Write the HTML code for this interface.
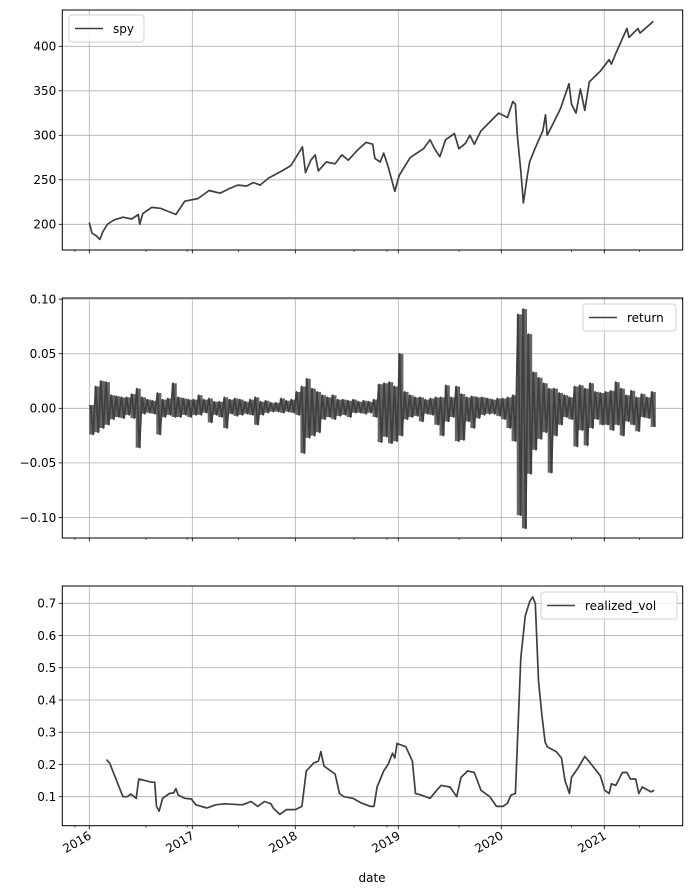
<!DOCTYPE html>
<html><head><meta charset="utf-8">
<style>
html,body{margin:0;padding:0;background:#fff;}
svg{display:block;font-family:"DejaVu Sans","Liberation Sans",sans-serif;}
</style></head>
<body>
<svg id="fig" width="692" height="895" viewBox="0 0 692 895" xmlns="http://www.w3.org/2000/svg"></svg>
<script>
// ---- data ----
const spyDates=[2016.00,2016.026,2016.069,2016.103,2016.133,2016.176,2016.240,2016.326,2016.412,2016.476,2016.489,2016.519,2016.605,2016.691,2016.755,2016.841,2016.927,2017.056,2017.163,2017.270,2017.356,2017.442,2017.528,2017.592,2017.657,2017.742,2017.871,2017.957,2018.069,2018.099,2018.150,2018.193,2018.223,2018.300,2018.386,2018.451,2018.515,2018.601,2018.687,2018.751,2018.773,2018.824,2018.858,2018.901,2018.966,2019.009,2019.116,2019.245,2019.309,2019.352,2019.403,2019.459,2019.545,2019.588,2019.652,2019.695,2019.738,2019.803,2019.888,2019.974,2020.060,2020.112,2020.137,2020.155,2020.189,2020.215,2020.253,2020.275,2020.326,2020.403,2020.429,2020.446,2020.489,2020.575,2020.657,2020.682,2020.725,2020.768,2020.811,2020.854,2020.961,2021.047,2021.069,2021.112,2021.219,2021.240,2021.326,2021.348,2021.476];
const spyValues=[202,190,187,183,192,200,205,208,206,211,200,212,219,218,215,211,226,229,238,235,240,244,243,247,244,252,260,266,287,258,272,278,260,270,268,278,272,283,292,290,274,270,280,265,237,255,275,285,295,285,276,295,302,285,291,300,290,305,315,325,320,338,335,300,260,224,255,270,285,305,323,300,310,330,358,335,325,352,328,360,372,385,380,392,420,410,420,415,428];
const retStart=2016.0, retStep=0.05;
const retHigh=[0.3,2.0,2.5,2.4,1.2,1.1,1.0,1.0,1.3,1.8,1.0,0.8,0.7,1.4,0.8,0.9,2.3,1.0,0.9,0.8,
0.8,1.2,0.8,0.9,0.6,0.6,1.0,0.8,0.9,0.8,0.6,0.8,1.0,0.6,0.7,0.5,0.5,0.9,0.7,0.8,
1.5,2.0,2.7,1.8,1.5,1.2,1.0,1.2,0.8,0.8,0.7,0.8,0.6,0.7,0.6,0.8,2.2,2.3,2.4,2.0,
5.0,1.5,1.2,1.0,1.0,0.8,0.9,1.0,1.0,2.1,1.0,2.0,1.3,1.0,1.1,1.0,1.0,0.9,0.8,0.9,
0.9,1.0,1.2,8.6,9.1,6.8,3.3,2.8,2.3,1.8,1.8,1.4,1.2,1.0,2.0,2.1,1.8,2.3,1.5,1.4,
1.5,1.6,2.4,1.8,1.2,1.6,1.0,1.3,1.0,1.5];
const retLow=[-2.4,-2.2,-1.8,-1.5,-1.0,-0.8,-0.9,-0.6,-0.9,-3.6,-0.5,-0.4,-0.5,-2.4,-0.8,-0.6,-0.8,-0.8,-0.6,-0.8,
-0.6,-0.6,-0.4,-1.3,-0.6,-0.8,-1.8,-0.5,-0.7,-0.6,-0.5,-0.6,-1.5,-0.6,-0.4,-0.3,-0.3,-0.4,-0.3,-0.4,
-0.6,-4.1,-2.7,-2.5,-2.2,-1.0,-0.8,-1.0,-0.7,-0.6,-0.8,-0.4,-0.4,-0.5,-0.4,-0.8,-3.1,-2.6,-3.2,-3.0,
-2.5,-1.0,-0.8,-0.7,-1.2,-0.5,-0.6,-1.5,-2.5,-1.2,-0.8,-3.0,-2.9,-1.2,-1.8,-0.9,-0.6,-0.5,-0.5,-0.7,
-1.0,-1.8,-3.0,-9.8,-11.0,-6.0,-3.8,-2.8,-2.2,-5.9,-2.5,-1.5,-0.8,-1.0,-3.5,-2.0,-3.4,-1.8,-1.0,-1.5,
-1.5,-2.0,-1.5,-2.5,-1.2,-1.5,-2.1,-0.8,-0.9,-1.7];
const volDates=[2016.167,2016.197,2016.240,2016.326,2016.369,2016.403,2016.455,2016.481,2016.541,2016.605,2016.635,2016.652,2016.678,2016.712,2016.777,2016.820,2016.841,2016.863,2016.927,2016.991,2017.034,2017.142,2017.227,2017.313,2017.485,2017.571,2017.635,2017.700,2017.764,2017.785,2017.850,2017.914,2018.000,2018.064,2018.107,2018.180,2018.223,2018.249,2018.279,2018.386,2018.429,2018.472,2018.558,2018.644,2018.730,2018.764,2018.794,2018.858,2018.901,2018.944,2018.966,2018.987,2019.073,2019.137,2019.167,2019.223,2019.309,2019.373,2019.416,2019.502,2019.567,2019.609,2019.674,2019.738,2019.803,2019.888,2019.953,2020.017,2020.060,2020.094,2020.137,2020.189,2020.232,2020.275,2020.305,2020.330,2020.361,2020.395,2020.425,2020.446,2020.532,2020.584,2020.618,2020.661,2020.682,2020.747,2020.811,2020.876,2020.961,2021.004,2021.047,2021.069,2021.112,2021.176,2021.219,2021.253,2021.305,2021.335,2021.369,2021.425,2021.455,2021.485];
const volValues=[0.215,0.205,0.17,0.10,0.10,0.108,0.095,0.155,0.15,0.145,0.145,0.07,0.055,0.095,0.11,0.112,0.125,0.105,0.095,0.093,0.075,0.065,0.075,0.078,0.075,0.085,0.07,0.085,0.078,0.065,0.045,0.06,0.06,0.07,0.18,0.205,0.21,0.24,0.195,0.17,0.11,0.10,0.095,0.08,0.07,0.07,0.13,0.18,0.20,0.235,0.22,0.265,0.255,0.21,0.11,0.105,0.095,0.12,0.135,0.13,0.10,0.16,0.18,0.175,0.12,0.10,0.07,0.07,0.08,0.105,0.11,0.53,0.66,0.705,0.72,0.70,0.46,0.35,0.27,0.255,0.24,0.22,0.15,0.11,0.16,0.19,0.225,0.20,0.165,0.12,0.11,0.14,0.135,0.175,0.175,0.155,0.155,0.11,0.13,0.12,0.115,0.12];
const yearTicks=[2016,2017,2018,2019,2020,2021];
const minorTicks=[2015.86,2016.55,2016.95,2017.45,2018.57,2018.89,2019.59,2020.68,2021.34];
const spyTicks=[200,250,300,350,400];
const retTicks=[-0.10,-0.05,0.00,0.05,0.10];
const volTicks=[0.1,0.2,0.3,0.4,0.5,0.6,0.7];

// ---- layout ----
const NS="http://www.w3.org/2000/svg";
const svg=document.getElementById('fig');
const L=62.3,R=682.7;
const xOf=t=>89.3+(t-2016)*103;
function mk(tag,attrs,parent){const e=document.createElementNS(NS,tag);for(const k in attrs)e.setAttribute(k,attrs[k]);(parent||svg).appendChild(e);return e;}
const axes=[
 {name:'spy',top:10,bot:250,y:v=>224.3-(v-200)*0.89,ticks:spyTicks,fmt:v=>String(v)},
 {name:'return',top:298,bot:538,y:v=>408.3-v*1091.7,ticks:retTicks,fmt:v=>(v<0?'\u2212':'')+Math.abs(v).toFixed(2)},
 {name:'realized-vol',top:586,bot:825.7,y:v=>796.7-(v-0.1)*322.3,ticks:volTicks,fmt:v=>v.toFixed(1)}
];
axes.forEach((a,ai)=>{
  const g=mk('g',{});
  
  
  yearTicks.forEach(t=>{const l=mk('line',{x1:xOf(t),x2:xOf(t),y1:a.top,y2:a.bot,stroke:'#b0b0b0','stroke-width':0.8},g);
    });
  a.ticks.forEach(v=>{const y=a.y(v);
    const gl=mk('line',{x1:L,x2:R,y1:y,y2:y,stroke:'#b0b0b0','stroke-width':0.8},g);
    
    mk('line',{x1:L-3.5,x2:L,y1:y,y2:y,stroke:'#000','stroke-width':0.8},g);
    const tx=mk('text',{x:L-6,y:y+4.3,'text-anchor':'end','font-size':'12px',fill:'#000'},g);
    tx.textContent=a.fmt(v);
    
  });
  yearTicks.forEach(t=>mk('line',{x1:xOf(t),x2:xOf(t),y1:a.bot,y2:a.bot+3.5,stroke:'#000','stroke-width':0.8},g));
  minorTicks.forEach(t=>{const x=xOf(t);if(x>L&&x<R)mk('line',{x1:x,x2:x,y1:a.bot,y2:a.bot+2,stroke:'#000','stroke-width':0.6},g);});
  let pts=[];
  if(ai===0){spyDates.forEach((d,i)=>pts.push([xOf(d),a.y(spyValues[i])]));}
  else if(ai===1){
    const up=[],dn=[];
    retHigh.forEach((h,i)=>{const d=retStart+i*retStep;
      up.push([xOf(d),a.y(h/100)]);up.push([xOf(d+retStep),a.y(h/100)]);
      dn.push([xOf(d),a.y(retLow[i]/100)]);dn.push([xOf(d+retStep),a.y(retLow[i]/100)]);});
    const poly=up.concat(dn.reverse());
    const env=mk('polygon',{points:poly.map(q=>q[0].toFixed(1)+','+q[1].toFixed(1)).join(' '),fill:'#3f3f3f','fill-opacity':0.8,stroke:'none'},g);
    
    
    retHigh.forEach((h,i)=>{const d=retStart+i*retStep;pts.push([xOf(d+0.012),a.y(h/100)]);pts.push([xOf(d+0.037),a.y(retLow[i]/100)]);});
  }
  else {volDates.forEach((d,i)=>pts.push([xOf(d),a.y(volValues[i])]));}
  const p=mk('polyline',{points:pts.map(q=>q[0].toFixed(1)+','+q[1].toFixed(1)).join(' '),fill:'none',stroke:'#3f3f3f','stroke-width':1.7,'stroke-linejoin':'round'},g);
  
  
  mk('rect',{x:L,y:a.top,width:R-L,height:a.bot-a.top,fill:'none',stroke:'#000','stroke-width':1},g);
});
function legend(x,y,w,label,name){
  const g=mk('g',{});
  
  
  mk('rect',{x:x,y:y,width:w,height:27,rx:3,fill:'#fff','fill-opacity':0.8,stroke:'#d0d0d0','stroke-width':1},g);
  mk('line',{x1:x+6,x2:x+34,y1:y+13.5,y2:y+13.5,stroke:'#3f3f3f','stroke-width':1.5},g);
  const t=mk('text',{x:x+44,y:y+18,'font-size':'12px',fill:'#000'},g);t.textContent=label;
}
legend(69,15,75,'spy','spy-legend');
legend(583,304,93,'return','return-legend');
legend(541,592,136,'realized_vol','realized-vol-legend');
yearTicks.forEach(t=>{const x=xOf(t);
  const tx=mk('text',{x:0,y:0,'text-anchor':'end','font-size':'12px',fill:'#000',transform:`translate(${x+3},${838}) rotate(-30)`});
  tx.textContent=String(t);
  
});
const xl=mk('text',{x:372,y:882,'text-anchor':'middle','font-size':'12px',fill:'#000'});
xl.textContent='date';


</script>
</body></html>
